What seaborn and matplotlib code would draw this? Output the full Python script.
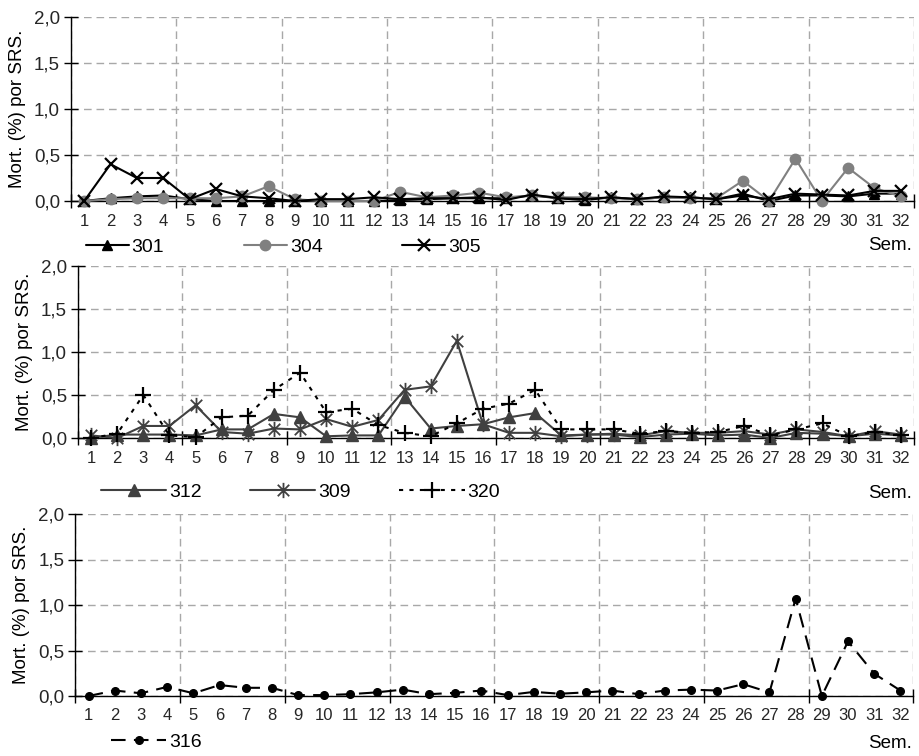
import numpy as np
import pandas as pd
import matplotlib
matplotlib.use("Agg")
import matplotlib.pyplot as plt
from matplotlib.ticker import FuncFormatter
from matplotlib.path import Path
import seaborn as sns

# ---------------- data ----------------
weeks = list(range(1, 33))

s301 = [0.00, 0.03, 0.05, 0.06, 0.02, 0.00, 0.00, 0.00, 0.00, 0.00, 0.00, 0.00, 0.01, 0.02, 0.03, 0.03,
        0.03, 0.06, 0.03, 0.01, 0.04, 0.02, 0.04, 0.04, 0.02, 0.08, 0.00, 0.06, 0.06, 0.05, 0.08, 0.08]
s304 = [0.00, 0.02, 0.03, 0.03, 0.03, 0.03, 0.05, 0.16, 0.02, 0.00, 0.00, 0.00, 0.10, 0.04, 0.06, 0.09,
        0.04, 0.06, 0.04, 0.04, 0.03, 0.02, 0.04, 0.03, 0.03, 0.22, 0.00, 0.46, 0.00, 0.36, 0.14, 0.05]
s305 = [0.00, 0.40, 0.25, 0.25, 0.02, 0.13, 0.05, 0.03, 0.00, 0.02, 0.02, 0.04, 0.02, 0.03, 0.03, 0.04,
        0.01, 0.07, 0.03, 0.02, 0.04, 0.02, 0.05, 0.04, 0.02, 0.06, 0.02, 0.08, 0.07, 0.06, 0.11, 0.11]

s312 = [0.00, 0.04, 0.04, 0.04, 0.03, 0.10, 0.10, 0.28, 0.24, 0.02, 0.03, 0.03, 0.48, 0.11, 0.14, 0.16,
        0.24, 0.29, 0.03, 0.04, 0.04, 0.01, 0.04, 0.05, 0.03, 0.04, 0.00, 0.06, 0.05, 0.02, 0.05, 0.03]
s309 = [0.03, 0.00, 0.14, 0.14, 0.38, 0.07, 0.05, 0.11, 0.10, 0.22, 0.13, 0.21, 0.56, 0.60, 1.13, 0.16,
        0.06, 0.06, 0.02, 0.04, 0.05, 0.03, 0.08, 0.06, 0.06, 0.08, 0.04, 0.10, 0.07, 0.02, 0.08, 0.04]
s320 = [0.00, 0.05, 0.50, 0.03, 0.01, 0.24, 0.26, 0.56, 0.76, 0.30, 0.34, 0.15, 0.06, 0.02, 0.17, 0.34,
        0.40, 0.56, 0.10, 0.10, 0.10, 0.05, 0.08, 0.06, 0.07, 0.14, 0.03, 0.10, 0.17, 0.02, 0.07, 0.03]

s316 = [0.00, 0.06, 0.03, 0.10, 0.03, 0.12, 0.09, 0.09, 0.01, 0.01, 0.02, 0.04, 0.07, 0.02, 0.035, 0.06,
        0.01, 0.045, 0.025, 0.04, 0.06, 0.02, 0.06, 0.07, 0.06, 0.13, 0.04, 1.07, 0.00, 0.60, 0.245, 0.06]

ylabel_text = "Mort. (%) por SRS."
xlabel_text = "Sem."
yticks = [0.0, 0.5, 1.0, 1.5, 2.0]

# ---------------- style ----------------
sns.set_style("white")
plt.rcParams["font.family"] = ["Liberation Sans", "DejaVu Sans"]
plt.rcParams["text.color"] = "black"

W, H = 920, 756
fig = plt.figure(figsize=(W / 100, H / 100), dpi=100)

# Excel-like asterisk: an "x" plus a vertical stroke
asterisk = Path([(0, -1), (0, 1), (-0.75, -0.75), (0.75, 0.75), (-0.75, 0.75), (0.75, -0.75)],
                [Path.MOVETO, Path.LINETO, Path.MOVETO, Path.LINETO, Path.MOVETO, Path.LINETO])


def px_axes(l, t, r, b):
    return fig.add_axes([l / W, 1 - b / H, (r - l) / W, (b - t) / H])


def style_axes(ax):
    ax.set_xlim(0.5, 32.5)
    ax.set_ylim(0, 2.0)
    ax.set_xlabel("")
    ax.set_ylabel("")
    ax.set_xticks(np.arange(0.5, 33, 4))
    ax.set_xticks(weeks, labels=[str(w) for w in weeks], minor=True)
    ax.tick_params(axis="x", which="major", direction="inout", length=10, width=1,
                   color="black", labelbottom=False, bottom=True)
    ax.tick_params(axis="x", which="minor", length=0, pad=9, labelsize=12, bottom=True)
    ax.set_yticks(yticks)
    ax.yaxis.set_major_formatter(FuncFormatter(lambda v, p: f"{v:.1f}".replace(".", ",")))
    ax.tick_params(axis="y", direction="inout", length=10, width=1, color="black",
                   pad=3, labelsize=13.5, left=True)
    ax.grid(True, which="major", axis="both", linestyle=(0, (5.5, 3.5)), color="#a8a8a8", lw=1)
    ax.set_axisbelow(True)
    for s in ("top", "right"):
        ax.spines[s].set_visible(False)
    for s in ("left", "bottom"):
        ax.spines[s].set_color("black")
        ax.spines[s].set_linewidth(1)
    leg = ax.get_legend()
    if leg is not None:
        leg.remove()


def draw(ax, vals, label, color, marker, ms, mew, ls="-", lw=1.5):
    sns.lineplot(x=weeks, y=vals, ax=ax, color=color, marker=marker, markersize=ms,
                 markeredgewidth=mew, markeredgecolor=color, markerfacecolor=color,
                 linestyle=ls, linewidth=lw, label=label, clip_on=False,
                 errorbar=None, legend=False, zorder=3)


# ---------------- top panel ----------------
ax1 = px_axes(71, 17, 914, 201)
draw(ax1, s301, "301", "black", "^", 7, 1)
draw(ax1, s304, "304", "#808080", "o", 7.5, 1)
draw(ax1, s305, "305", "black", "x", 8, 1.6)
style_axes(ax1)

# ---------------- middle panel ----------------
ax2 = px_axes(78, 266, 914, 438)
dg = "#404040"
draw(ax2, s312, "312", dg, "^", 8, 1)
draw(ax2, s309, "309", dg, asterisk, 11, 1.3)
draw(ax2, s320, "320", "black", "+", 12, 1.6, ls=(0, (2, 3)))
style_axes(ax2)

# ---------------- bottom panel ----------------
ax3 = px_axes(75.5, 514, 913.5, 696)
draw(ax3, s316, "316", "black", "o", 5.5, 1, ls=(0, (7, 4)))
style_axes(ax3)

# ---------------- legends ----------------
def add_legend(ax, x_px, y_px, hl, cs):
    h, l = ax.get_legend_handles_labels()
    fig.legend(h, l, loc="center left", bbox_to_anchor=(x_px / W, 1 - y_px / H),
               bbox_transform=fig.transFigure, ncol=3, frameon=False, borderpad=0,
               borderaxespad=0, handlelength=hl, handletextpad=0.15, columnspacing=cs,
               fontsize=14)


add_legend(ax1, 86, 247, 2.2, 4.1)
add_legend(ax2, 101, 492, 3.35, 2.5)
add_legend(ax3, 111, 742, 2.85, 2.5)

# ---------------- texts ----------------
for y in (246, 493, 743):
    fig.text(912 / W, 1 - y / H, xlabel_text, ha="right", va="center", fontsize=13.5)

for x, y in ((18, 109), (25, 352), (22, 605)):
    fig.text(x / W, 1 - y / H, ylabel_text, rotation=90, ha="center", va="center", fontsize=13.5)

fig.savefig("out.png", dpi=100)
